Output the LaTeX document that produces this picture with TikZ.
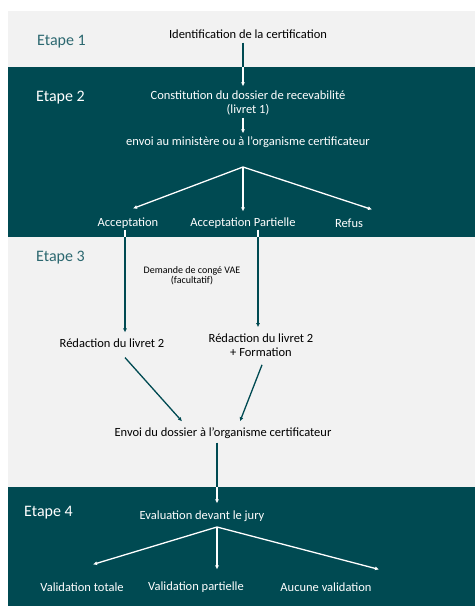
\documentclass[tikz,border=0pt]{standalone}
\usepackage{fontspec}
\setmainfont{Carlito}
\usepackage{xcolor}
\usepackage{tikz}
\usetikzlibrary{positioning,arrows.meta,calc}
\definecolor{vaeteal}{RGB}{0,74,82}
\definecolor{vaegray}{RGB}{242,242,242}
\definecolor{vaelabel}{RGB}{44,104,112}

\begin{document}
\begin{tikzpicture}[x=1pt,y=-1pt,
  every node/.style={font=\fontsize{12.5}{14.5}\selectfont, inner sep=1pt},
  etape/.style={font=\fontsize{16}{18}\selectfont, anchor=west},
  warr/.style={draw=white, line width=1.3pt, -{Latex[length=4pt,width=4pt]}},
  tarr/.style={draw=vaeteal, line width=1.3pt, -{Latex[length=4pt,width=4pt]}},
  wline/.style={draw=white, line width=1.3pt},
  tline/.style={draw=vaeteal, line width=1.3pt}]
  % bands
  \fill[white] (0,0) rectangle (475,609);
  \fill[vaegray] (8,11) rectangle (475,67);
  \fill[vaeteal] (8,67) rectangle (475,237);
  \fill[vaegray] (8,237) rectangle (475,487);
  \fill[vaeteal] (8,487) rectangle (475,606);
  \coordinate (top2) at (0,67);
  \coordinate (top3) at (0,237);
  \coordinate (top4) at (0,487);

  % Etape 1 and 2
\node (e1) at (36,42) [etape, text=vaelabel] {Etape 1};
\node (idn) at (248,34) {Identification de la certification};
\node (e2) at (35,98) [etape, text=white] {Etape 2};
\node (const) at (248,103) [align=center, text=white] {Constitution du dossier de recevabilité\\(livret 1)};
\node (envoi) at (248,142) [text=white] {envoi au ministère ou à l’organisme certificateur};
  \coordinate (split) at (243,167);
\node (acc) at (128,223) [text=white] {Acceptation};
\node (accp) at (243,223) [text=white] {Acceptation Partielle};
\node (refus) at (349,223) [text=white] {Refus};

  % Etape 3
\node (e3) at (35,258) [etape, text=vaelabel] {Etape 3};
\node (conge) at (192,276) [align=center, font=\fontsize{10}{9}\selectfont] {Demande de congé VAE\\(facultatif)};
\node (red1) at (112,343) {Rédaction du livret 2};
\node (red2) at (261,345) [align=center] {Rédaction du livret 2\\+ Formation};
\node (envd) at (223,433) {Envoi du dossier à l’organisme certificateur};

  % Etape 4
\node (e4) at (23,513) [etape, text=white] {Etape 4};
\node (eval) at (202,516) [text=white] {Evaluation devant le jury};
  \coordinate (branch) at (217,527);
\node (vt) at (82,587) [text=white] {Validation totale};
\node (vp) at (196,587) [text=white] {Validation partielle};
\node (av) at (326,587) [text=white] {Aucune validation};

  % connectors
  \draw[tline, shorten <=3pt] ([xshift=-5pt]idn.south) -- ([xshift=-5pt]idn.south |- top2);
  \draw[warr, shorten >=3pt] ([xshift=-5pt]idn.south |- top2) -- ([xshift=-5pt]const.north);
  \draw[warr, shorten <=1pt, shorten >=2pt] ([xshift=-5pt]const.south) -- ([xshift=-5pt]envoi.north);
  \draw[warr] (split) -- ([xshift=5pt,yshift=8pt]acc.north);
  \draw[warr] (split) -- ([yshift=5pt]accp.north);
  \draw[warr] (split) -- ([xshift=23pt,yshift=8pt]refus.north);
  \draw[wline] ([xshift=-3pt]acc.south) -- ([xshift=-3pt]acc.south |- top3);
  \draw[tarr, shorten >=5pt] ([xshift=-3pt]acc.south |- top3) -- ([xshift=-3pt]acc.south |- red1.north);
  \draw[wline] ([xshift=15pt]accp.south) -- ([xshift=15pt]accp.south |- top3);
  \draw[tarr, shorten >=5pt] ([xshift=15pt]accp.south |- top3) -- ([xshift=15pt]accp.south |- red2.north);
  \draw[tarr] ([xshift=13pt,yshift=-9pt]red1.south) -- ([xshift=-41pt,yshift=5pt]envd.north);
  \draw[tarr] ([xshift=1pt,yshift=-7pt]red2.south) -- ([xshift=17pt,yshift=5pt]envd.north);
  \draw[tline, shorten <=3pt] ([xshift=-6pt]envd.south) -- ([xshift=-6pt]envd.south |- top4);
  \draw[warr, shorten >=6pt] ([xshift=-6pt]envd.south |- top4) -- ([xshift=-6pt]envd.south |- eval.north);
  \draw[warr] (branch) -- ([xshift=11pt,yshift=17pt]vt.north);
  \draw[warr] (branch) -- ([xshift=21pt,yshift=11pt]vp.north);
  \draw[warr] (branch) -- ([xshift=53pt,yshift=12pt]av.north);
\end{tikzpicture}
\end{document}
